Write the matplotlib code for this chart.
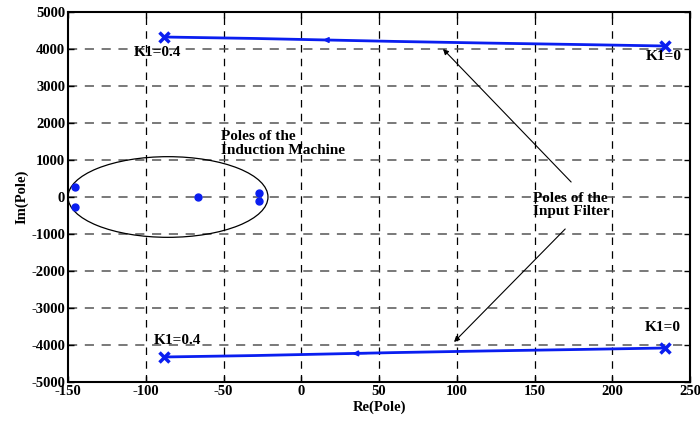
import numpy as np
from matplotlib import pyplot as plt
from matplotlib.patches import Ellipse

plt.rcParams["font.family"] = ["Liberation Serif", "DejaVu Serif"]
plt.rcParams["font.weight"] = "bold"
plt.rcParams["axes.unicode_minus"] = False

# Input filter pole locus (K1 from 0 to 0.4)
filter_re = [233.9, 180, 120, 60, 17, -30, -88.3]
filter_im = [4081, 4120, 4160, 4205, 4243, 4285, 4324]

# Induction machine poles
machine_re = [-145.5, -145.5, -66.6, -27.0, -27.0]
machine_im = [270, -280, 0, 100, -100]

x_ticks = [-150, -100, -50, 0, 50, 100, 150, 200, 250]
y_ticks = [-5000, -4000, -3000, -2000, -1000, 0, 1000, 2000, 3000, 4000, 5000]

fig = plt.figure(figsize=(7.0, 4.21), dpi=100)
ax = fig.add_axes([68 / 700, 1 - 382 / 421, 622 / 700, 370 / 421])

blue = "#0a1ef0"
lower_im = [-v for v in filter_im]
ax.plot(filter_re, filter_im, color=blue, lw=2)
ax.plot(filter_re, lower_im, color=blue, lw=2)
for ys in (filter_im, lower_im):
    ax.plot([filter_re[0], filter_re[-1]], [ys[0], ys[-1]], "x", color=blue,
            ms=7, mew=2.5)
# small direction arrows on the loci
ax.annotate("", xy=(12, 4247), xytext=(25, 4237),
            arrowprops=dict(arrowstyle="-|>", color=blue, lw=1.2,
                            mutation_scale=8))
ax.annotate("", xy=(31, -4232), xytext=(44, -4222),
            arrowprops=dict(arrowstyle="-|>", color=blue, lw=1.2,
                            mutation_scale=8))

ax.plot(machine_re, machine_im, "o", color=blue, ms=5)
ax.add_patch(Ellipse((-85.7, 0), 128.6, 2180, fill=False, ec="black", lw=0.9))

# annotations
fs = 11
ax.text(-51.6, 1450, "Poles of the\nInduction Machine", fontsize=fs,
        fontweight="bold", va="center", ha="left", linespacing=1.05)
ax.text(149, -220, "Poles of the\nInput Filter", fontsize=fs,
        fontweight="bold", va="center", ha="left", linespacing=1.05)
ax.annotate("", xy=(89.9, 4054), xytext=(174.8, 351),
            arrowprops=dict(arrowstyle="-|>", color="black", lw=0.8,
                            mutation_scale=8))
ax.annotate("", xy=(97, -3973), xytext=(171, -811),
            arrowprops=dict(arrowstyle="-|>", color="black", lw=0.8,
                            mutation_scale=8))
ax.text(-108, 3892, "K1=0.4", fontsize=fs, fontweight="bold", va="center", ha="left")
ax.text(221.7, 3784, "K1=0", fontsize=fs, fontweight="bold", va="center", ha="left")
ax.text(-94.7, -3865, "K1=0.4", fontsize=fs, fontweight="bold", va="center", ha="left")
ax.text(221, -3540, "K1=0", fontsize=fs, fontweight="bold", va="center", ha="left")

ax.set_xlim(-150, 250)
ax.set_ylim(-5000, 5000)
ax.set_xticks(x_ticks)
ax.set_yticks(y_ticks)
ax.tick_params(direction="in", length=4, width=1, top=True, right=True,
               labelsize=10.5, pad=2)
for lab in ax.get_xticklabels() + ax.get_yticklabels():
    lab.set_fontweight("bold")
for v in x_ticks[1:-1]:
    ax.axvline(v, color="black", ls=(0, (6, 5)), lw=0.9, zorder=0)
for v in y_ticks[1:-1]:
    ax.axhline(v, color="#555555", ls=(0, (6, 5)), lw=1.1, zorder=0)
for s in ax.spines.values():
    s.set_linewidth(1.5)

ax.set_xlabel("Re(Pole)", fontsize=10.5, fontweight="bold", labelpad=2)
ax.set_ylabel("Im(Pole)", fontsize=10.5, fontweight="bold", labelpad=2)

fig.savefig("out.png", dpi=100)
